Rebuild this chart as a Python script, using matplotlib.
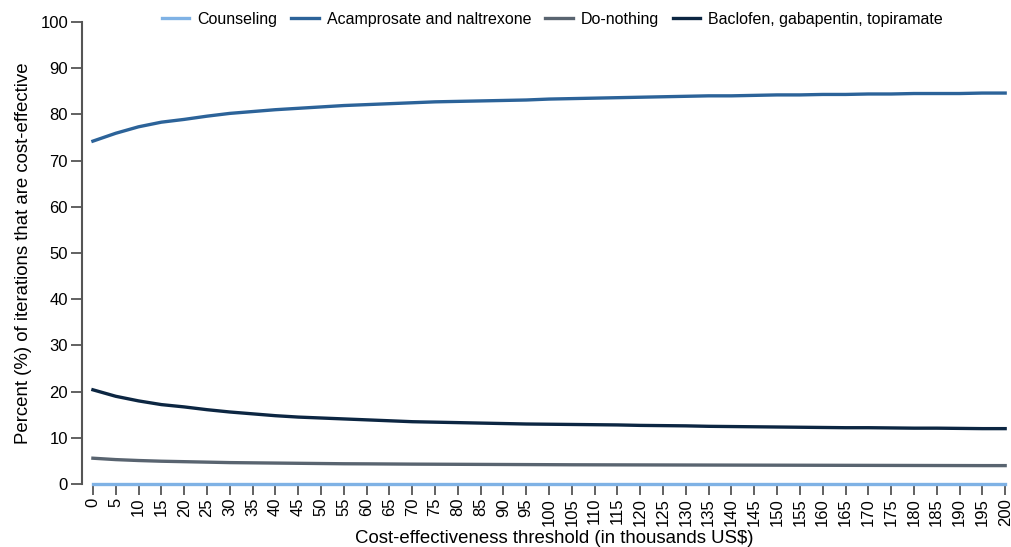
import matplotlib
matplotlib.use("Agg")
import matplotlib.pyplot as plt
import numpy as np

plt.rcParams['font.family'] = ['Liberation Sans', 'DejaVu Sans']

# Thresholds (thousands US$)
threshold = list(range(0, 205, 5))

counseling = [0.0] * len(threshold)
acamprosate = [74.2, 75.9, 77.3, 78.3, 78.9, 79.6, 80.2, 80.6, 81.0, 81.3, 81.6, 81.9, 82.1, 82.3,
               82.5, 82.7, 82.8, 82.9, 83.0, 83.1, 83.3, 83.4, 83.5, 83.6, 83.7, 83.8, 83.9, 84.0,
               84.0, 84.1, 84.2, 84.2, 84.3, 84.3, 84.4, 84.4, 84.5, 84.5, 84.5, 84.6, 84.6]
do_nothing = [5.6, 5.3, 5.1, 4.95, 4.85, 4.75, 4.65, 4.6, 4.55, 4.5, 4.45, 4.4, 4.38, 4.35,
              4.32, 4.3, 4.28, 4.26, 4.24, 4.22, 4.2, 4.18, 4.17, 4.16, 4.15, 4.14, 4.13, 4.12,
              4.11, 4.1, 4.09, 4.08, 4.07, 4.06, 4.05, 4.04, 4.03, 4.02, 4.01, 4.0, 4.0]
baclofen = [20.4, 19.0, 18.0, 17.2, 16.7, 16.1, 15.6, 15.2, 14.8, 14.5, 14.3, 14.1, 13.9, 13.7,
            13.5, 13.4, 13.3, 13.2, 13.1, 13.0, 12.95, 12.9, 12.85, 12.8, 12.7, 12.65, 12.6, 12.5,
            12.45, 12.4, 12.35, 12.3, 12.25, 12.2, 12.2, 12.15, 12.1, 12.1, 12.05, 12.0, 12.0]

series = [("Counseling", counseling, "#7fb2e5"),
          ("Acamprosate and naltrexone", acamprosate, "#2c6399"),
          ("Do-nothing", do_nothing, "#596470"),
          ("Baclofen, gabapentin, topiramate", baclofen, "#0c2642")]

fig = plt.figure(figsize=(10.12, 5.47), dpi=100)
ax = fig.add_axes([0.081, 0.115, 0.919, 0.845])

for name, vals, color in series:
    ax.plot(threshold, vals, color=color, lw=2.4, label=name, clip_on=False, zorder=3)

ax.set_xlim(-2.4, 201.5)
ax.set_ylim(0, 100)
ax.set_xticks(threshold)
ax.set_xticklabels([str(t) for t in threshold], rotation=90)
ax.set_yticks(range(0, 101, 10))

for s in ("top", "right", "bottom"):
    ax.spines[s].set_visible(False)
ax.spines["left"].set_color("#555555")
ax.spines["left"].set_linewidth(1.5)
ax.tick_params(axis="both", labelsize=12, length=8, width=1.3, color="#555555", pad=2)

ax.set_ylabel("Percent (%) of iterations that are cost-effective", fontsize=13.4, labelpad=6)
fig.text(0.548, 0.0, "Cost-effectiveness threshold (in thousands US$)", fontsize=13.4,
         ha="center", va="bottom")

fig.legend(loc="upper center", bbox_to_anchor=(0.546, 1.005), ncol=4, frameon=False,
           fontsize=11.5, handlelength=1.7, columnspacing=0.9, handletextpad=0.5)

fig.savefig("out.png", dpi=100)
